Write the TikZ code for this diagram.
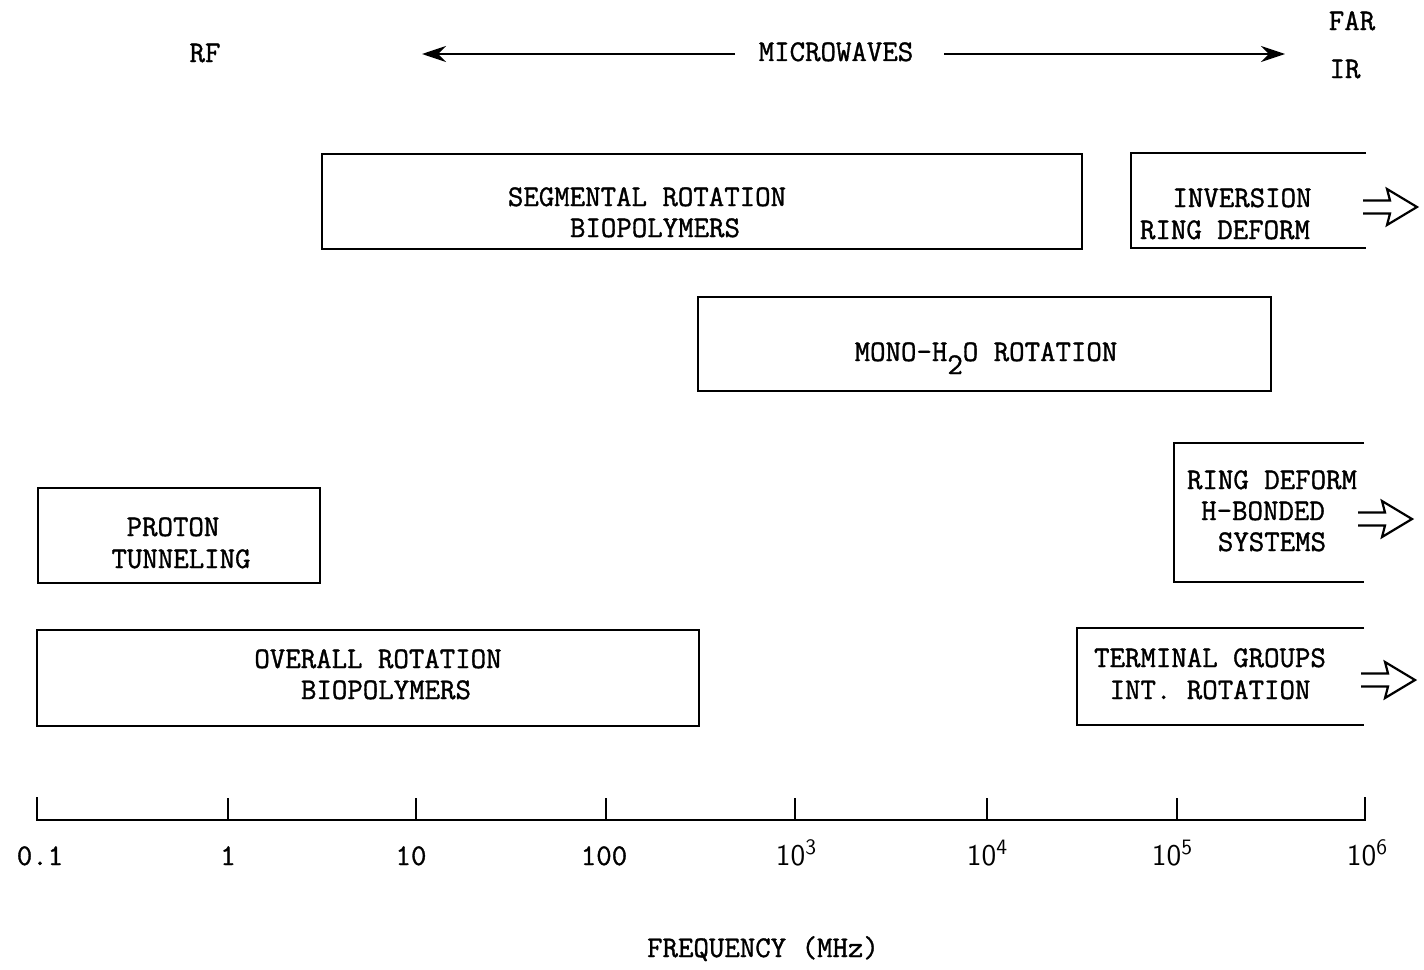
\documentclass[tikz,border=0pt]{standalone}
\usepackage{fontspec}
\newfontfamily\tw{Latin Modern Mono}[FakeBold=1.2]
\usetikzlibrary{arrows.meta}
\newcommand{\supsf}[1]{\raisebox{5.5pt}{\fontsize{11}{11}\selectfont #1}}
\begin{document}
\begin{tikzpicture}[x=0.5pt,y=-0.5pt,line width=1.1pt,
  lbl/.style={font=\fontsize{15}{16}\selectfont\tw,inner sep=0pt,anchor=base},
  slbl/.style={font=\fontsize{15}{16}\selectfont\sffamily,inner sep=0pt,anchor=base},
  box/.style={draw,inner sep=0pt,anchor=north west},
  openarr/.pic={\draw[line width=1.1pt,line join=miter] (0,6.5) -- (27,6.5) -- (24,18) -- (54,0) -- (24,-18) -- (27,-6.5) -- (0,-6.5);}]
\useasboundingbox (0,0) rectangle (1424,969);

% top labels
\node[lbl] (rf) at (205,62) {RF};
\node[lbl] (mw) at (836,61) {MICROWAVES};
\node[lbl] (far) at (1352,30) {FAR};
\node[lbl] (ir) at (1345,78) {IR};
\coordinate (mwa) at (735,54);
\coordinate (mwb) at (944,54);
\coordinate (mwL) at (422,54);
\coordinate (mwR) at (1285,54);
\draw[-{Stealth[length=12pt,width=8pt]}] (mwa) -- (mwL);
\draw[-{Stealth[length=12pt,width=8pt]}] (mwb) -- (mwR);

% segmental rotation
\node[box,minimum width=380pt,minimum height=47.5pt] (seg) at (321,153) {};
\node[lbl] (seg1) at (647,206) {SEGMENTAL ROTATION};
\node[lbl] (seg2) at (655,237) {BIOPOLYMERS};

% inversion (open box)
\coordinate (invA) at (1366,153);
\coordinate (invB) at (1131,153);
\coordinate (invC) at (1131,248);
\coordinate (invD) at (1366,248);
\draw (invA) -- (invB) -- (invC) -- (invD);
\node[lbl] (inv1) at (1242,207) {INVERSION};
\node[lbl] (inv2) at (1225,239) {RING DEFORM};
\pic at (1363,207) {openarr};

% mono-H2O
\node[box,minimum width=286.5pt,minimum height=47pt] (mono) at (697,296) {};
\node[lbl] (mono1) at (986,361) {MONO-H\raisebox{-6.5pt}{2}O ROTATION};

% proton tunneling
\node[box,minimum width=141pt,minimum height=47.5pt] (prot) at (37,487) {};
\node[lbl] (prot1) at (173,536) {PROTON};
\node[lbl] (prot2) at (181,568) {TUNNELING};

% ring deform H-bonded (open box)
\coordinate (rdA) at (1364,443);
\coordinate (rdB) at (1174,443);
\coordinate (rdC) at (1174,582);
\coordinate (rdD) at (1364,582);
\draw (rdA) -- (rdB) -- (rdC) -- (rdD);
\node[lbl] (rd1) at (1272,489) {RING DEFORM};
\node[lbl] (rd2) at (1263,520) {H-BONDED};
\node[lbl] (rd3) at (1272,551) {SYSTEMS};
\pic at (1358,519) {openarr};

% overall rotation
\node[box,minimum width=331pt,minimum height=48pt] (over) at (36,629) {};
\node[lbl] (over1) at (378,668) {OVERALL ROTATION};
\node[lbl] (over2) at (386,699) {BIOPOLYMERS};

% terminal groups (open box)
\coordinate (tgA) at (1364,628);
\coordinate (tgB) at (1077,628);
\coordinate (tgC) at (1077,725);
\coordinate (tgD) at (1364,725);
\draw (tgA) -- (tgB) -- (tgC) -- (tgD);
\node[lbl] (tg1) at (1210,667) {TERMINAL GROUPS};
\node[lbl] (tg2) at (1210,699) {INT. ROTATION};
\pic at (1361,680) {openarr};

% axis
\foreach \n/\x in {0/37,1/228,2/416,3/606,4/795,5/987,6/1177,7/1365}{
  \coordinate (t\n) at (\x,820);
  \coordinate (u\n) at (\x,798);
}
\draw[line cap=rect] (u0) -- (t0) -- (t7) -- (u7);
\foreach \n in {1,...,6}{\draw (t\n) -- (u\n);}
\node[lbl] (l0) at (40,865) {0.1};
\node[lbl] (l1) at (228,865) {1};
\node[lbl] (l2) at (411,865) {10};
\node[lbl] (l3) at (604,865) {100};
\node[slbl] (l4) at (796,865) {10\supsf{3}};
\node[slbl] (l5) at (987,865) {10\supsf{4}};
\node[slbl] (l6) at (1172,865) {10\supsf{5}};
\node[slbl] (l7) at (1367,865) {10\supsf{6}};
\node[lbl] (freq) at (763,957) {FREQUENCY (MHz)};
\end{tikzpicture}
\end{document}
